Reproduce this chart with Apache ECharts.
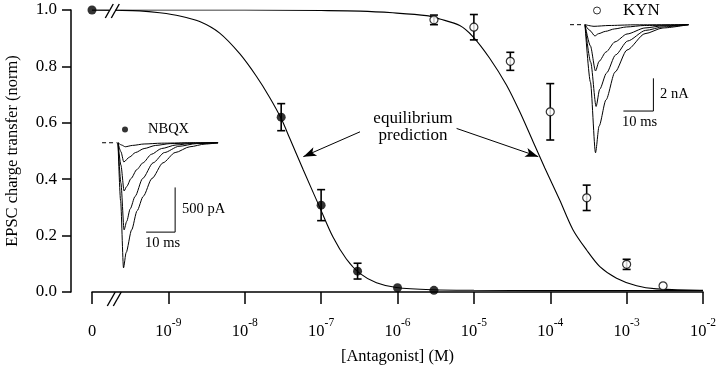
<!DOCTYPE html>
<html><head><meta charset="utf-8">
<script src="https://cdn.jsdelivr.net/npm/echarts@6/dist/echarts.min.js"></script>
<style>html,body{margin:0;padding:0;background:#fff}#c{width:720px;height:365px}</style>
</head><body><div id="c"></div>
<script>
// ---------------- data ----------------
const xTickExps = [-10, -9, -8, -7, -6, -5, -4, -3, -2];
const zeroLabel = '0';
const yTickLabels = ['0.0', '0.2', '0.4', '0.6', '0.8', '1.0'];
const zeroPlotConc = 1e-10;   // where "0" sits on the log axis
const breakConc = 1.9e-10;    // axis break position

const nbqxConc = [0, 3e-8, 1e-7, 3e-7, 1e-6, 3e-6];
const nbqxMean = [1.0, 0.62, 0.308, 0.074, 0.015, 0.006];
const nbqxErr  = [0, 0.048, 0.055, 0.028, 0, 0];

const kynConc = [3e-6, 1e-5, 3e-5, 1e-4, 3e-4, 1e-3, 3e-3];
const kynMean = [0.965, 0.939, 0.818, 0.639, 0.334, 0.098, 0.022];
const kynErr  = [0.017, 0.045, 0.032, 0.100, 0.045, 0.018, 0];

const nbqxFitConc = [0, 2.17e-10, 4.21e-10, 7.69e-10, 1.41e-9, 2.57e-9, 4.70e-9, 8.59e-9, 1.42e-8, 2.12e-8, 3.0e-8, 3.88e-8, 5.79e-8, 9.6e-8, 1.43e-7, 2.14e-7, 3.21e-7, 5.3e-7, 9.68e-7, 2.92e-6, 1e-5, 1e-4, 1e-3, 1e-2];
const nbqxFitVal  = [1.0, 0.999, 0.997, 0.99, 0.979, 0.959, 0.918, 0.845, 0.765, 0.69, 0.615, 0.545, 0.435, 0.30, 0.195, 0.117, 0.066, 0.033, 0.016, 0.008, 0.006, 0.005, 0.005, 0.005];

const kynFitConc = [0, 2.17e-10, 1e-8, 1e-7, 3.25e-7, 8.67e-7, 2.39e-6, 3.58e-6, 6.53e-6, 9.77e-6, 1.61e-5, 2.67e-5, 3.99e-5, 5.96e-5, 8.49e-5, 1.33e-4, 1.99e-4, 2.99e-4, 4.46e-4, 7.38e-4, 1.35e-3, 2.47e-3, 9.1e-3, 1e-2];
const kynFitVal  = [1.0, 1.0, 1.0, 0.998, 0.996, 0.99, 0.98, 0.968, 0.945, 0.905, 0.829, 0.734, 0.639, 0.533, 0.44, 0.326, 0.22, 0.149, 0.090, 0.049, 0.022, 0.011, 0.006, 0.006];

// arrows of the "equilibrium prediction" annotation (data coords)
const arrowFrom = [[3.23e-7, 0.568], [5.94e-6, 0.58]];
const arrowTo   = [[5.85e-8, 0.48], [6.97e-5, 0.48]];

// inset: NBQX EPSC traces (ms, pA)
const nbqxTraceT = [
  [0, 1.2, 2.5, 5, 9, 15, 24, 34.5],
  [0, 1, 2, 4, 6, 9, 13, 18, 25, 34.5],
  [0, 1, 2.1, 3, 4.5, 6.5, 8.6, 11.5, 15, 20, 26, 34.5],
  [0, 1, 2.1, 3, 4.2, 5.9, 8.5, 12.1, 16, 21, 27, 34.5],
  [0, 0.9, 1.9, 2.8, 4.7, 6.6, 8.7, 11.7, 15.5, 19.7, 24.8, 30, 34.5]
];
const nbqxTraceI = [
  [0, -25, -45, -30, -14, -5, -1, 0],
  [0, -100, -215, -160, -110, -65, -30, -10, -3, 0],
  [0, -250, -540, -490, -400, -300, -225, -130, -65, -25, -6, 0],
  [0, -450, -975, -880, -740, -600, -400, -225, -110, -40, -10, 0],
  [0, -650, -1400, -1230, -975, -760, -600, -400, -225, -110, -45, -15, 0]
];
const nbqxStub = [[-5.5, 0], [-0.5, 0]];
const nbqxScaleBar = [[9.7, -1000], [19.7, -1000], [19.7, -500]];

// inset: KYN EPSC traces (ms, nA)
const kynTraceT = [
  [0, 3, 8, 16, 34.5],
  [0, 1.6, 3.3, 4.5, 6.8, 9.8, 13.8, 19.8, 34.5],
  [0, 1.8, 3.5, 4.7, 7, 10, 14, 20, 26, 34.5],
  [0, 1.9, 3.7, 4.9, 7.2, 10.2, 14.2, 20.2, 26.2, 34.5],
  [0, 1.8, 3.5, 4.7, 7, 10, 14, 20, 26, 34.5]
];
const kynTraceI = [
  [0, -0.1, -0.05, -0.01, 0],
  [0, -0.35, -0.69, -0.55, -0.41, -0.26, -0.14, -0.05, 0],
  [0, -1.3, -2.83, -2.24, -1.67, -1.05, -0.57, -0.2, -0.07, 0],
  [0, -2.3, -5.0, -3.95, -2.95, -1.85, -1.0, -0.35, -0.13, 0],
  [0, -3.5, -7.83, -6.2, -4.6, -2.9, -1.55, -0.55, -0.2, 0]
];
const kynStub = [[-5, 0], [-1, 0]];
const kynScaleBar = [[12.8, -5.28], [22.8, -5.28], [22.8, -3.28]];

// ---------------- chart ----------------
const FF = '"Liberation Serif", "Times New Roman", serif';
const BLACK = '#000';
const toPlot = c => (c === 0 ? zeroPlotConc : c);
const zip = (xs, ys) => xs.map((x, i) => [toPlot(x), ys[i]]);

function errRender(params, api) {
  const x = api.value(0), lo = api.value(1), hi = api.value(2);
  const a = api.coord([x, lo]), b = api.coord([x, hi]);
  const w = 4, st = { stroke: BLACK, lineWidth: 1.6 };
  return { type: 'group', children: [
    { type: 'line', shape: { x1: a[0], y1: a[1], x2: b[0], y2: b[1] }, style: st },
    { type: 'line', shape: { x1: a[0] - w, y1: a[1], x2: a[0] + w, y2: a[1] }, style: st },
    { type: 'line', shape: { x1: b[0] - w, y1: b[1], x2: b[0] + w, y2: b[1] }, style: st }
  ]};
}
const errData = (cs, ms, es) => cs.map((c, i) => [toPlot(c), ms[i] - es[i], ms[i] + es[i]]).filter((d, i) => es[i] > 0);

const traceSeries = [];
nbqxTraceT.forEach((ts, k) => traceSeries.push({
  type: 'line', xAxisIndex: 1, yAxisIndex: 1, data: ts.map((t, i) => [t, nbqxTraceI[k][i]]),
  showSymbol: false, smooth: 0.25, smoothMonotone: 'x', lineStyle: { color: BLACK, width: 1 }, silent: true, z: 2
}));
kynTraceT.forEach((ts, k) => traceSeries.push({
  type: 'line', xAxisIndex: 2, yAxisIndex: 2, data: ts.map((t, i) => [t, kynTraceI[k][i]]),
  showSymbol: false, smooth: 0.25, smoothMonotone: 'x', lineStyle: { color: BLACK, width: 1 }, silent: true, z: 2
}));
traceSeries.push(
  { type: 'line', xAxisIndex: 1, yAxisIndex: 1, data: nbqxStub, showSymbol: false, lineStyle: { color: BLACK, width: 1, type: [4, 3] }, silent: true },
  { type: 'line', xAxisIndex: 1, yAxisIndex: 1, data: nbqxScaleBar, showSymbol: false, lineStyle: { color: BLACK, width: 1 }, silent: true },
  { type: 'line', xAxisIndex: 2, yAxisIndex: 2, data: kynStub, showSymbol: false, lineStyle: { color: BLACK, width: 1, type: [4, 3] }, silent: true },
  { type: 'line', xAxisIndex: 2, yAxisIndex: 2, data: kynScaleBar, showSymbol: false, lineStyle: { color: BLACK, width: 1 }, silent: true }
);

const chart = echarts.init(document.getElementById('c'), null, { renderer: 'canvas' });
const option = {
  animation: false,
  backgroundColor: '#fff',
  textStyle: { fontFamily: FF, color: BLACK },
  grid: [
    { left: 92, right: 17, top: 10, bottom: 73, outerBoundsMode: 'none', containLabel: false },
    { left: 100.6, top: 133.8, width: 127.6, height: 143, outerBoundsMode: 'none', containLabel: false },
    { left: 567, top: 16.5, width: 126, height: 147.2, outerBoundsMode: 'none', containLabel: false }
  ],
  xAxis: [
    {
      type: 'log', logBase: 10, min: 1e-10, max: 1e-2, splitNumber: 8, gridIndex: 0,
      position: 'bottom', offset: 7,
      axisLine: { show: true, lineStyle: { color: BLACK, width: 1.5 } },
      axisTick: { show: true, inside: false, length: 12, lineStyle: { color: BLACK, width: 1.5 } },
      minorTick: { show: false }, splitLine: { show: false }, minorSplitLine: { show: false },
      axisLabel: {
        show: true, margin: 18, color: BLACK,
        formatter: v => {
          const e = Math.round(Math.log10(v));
          if (xTickExps.indexOf(e) === 0) return '{b|' + zeroLabel + '}';
          return '{b|10}{s|' + e + '}';
        },
        rich: {
          b: { fontSize: 16.5, fontFamily: FF, color: BLACK, padding: [6, 0, 0, 0] },
          s: { fontSize: 11.5, fontFamily: FF, color: BLACK, verticalAlign: 'top' }
        }
      },
      name: '[Antagonist] (M)', nameLocation: 'middle', nameGap: 49,
      nameTextStyle: { fontSize: 16.5, fontFamily: FF, color: BLACK }
    },
    { type: 'value', gridIndex: 1, min: -6, max: 38, show: false },
    { type: 'value', gridIndex: 2, min: -6, max: 36, show: false }
  ],
  yAxis: [
    {
      type: 'value', min: 0, max: 1, interval: 0.2, gridIndex: 0, position: 'left', offset: 21,
      axisLine: { show: true, lineStyle: { color: BLACK, width: 1.5 } },
      axisTick: { show: true, inside: false, length: 9, lineStyle: { color: BLACK, width: 1.5 } },
      splitLine: { show: false },
      axisLabel: { show: true, margin: 14, fontSize: 17, fontFamily: FF, color: BLACK, formatter: (v, i) => yTickLabels[i] },
      name: 'EPSC charge transfer (norm)', nameLocation: 'middle', nameGap: 50, nameRotate: 90,
      nameTextStyle: { fontSize: 16.5, fontFamily: FF, color: BLACK }
    },
    { type: 'value', gridIndex: 1, min: -1500, max: 100, show: false },
    { type: 'value', gridIndex: 2, min: -8.5, max: 0.5, show: false }
  ],
  legend: [
    { data: [{ name: 'NBQX', icon: 'circle' }], left: 122, top: 122, padding: 0, itemWidth: 36, itemHeight: 6,
      selectedMode: false, textStyle: { fontSize: 14.5, fontFamily: FF, color: BLACK } },
    { data: [{ name: 'KYN', icon: 'circle' }], left: 593, top: 2, padding: 0, itemWidth: 42, itemHeight: 7,
      selectedMode: false, itemStyle: { borderWidth: 1 },
      textStyle: { fontSize: 17, fontFamily: FF, color: BLACK } }
  ],
  series: [
    { name: 'NBQX fit', type: 'line', data: zip(nbqxFitConc, nbqxFitVal), showSymbol: false, smooth: 0.3,
      lineStyle: { color: BLACK, width: 1.1 }, silent: true, z: 1,
      markLine: {
        silent: true, symbol: ['none', 'arrow'], symbolSize: [7, 13], animation: false,
        lineStyle: { color: BLACK, width: 1, type: 'solid' }, label: { show: false },
        itemStyle: { color: BLACK },
        data: arrowFrom.map((f, i) => [{ coord: f }, { coord: arrowTo[i] }])
      }
    },
    { name: 'KYN fit', type: 'line', data: zip(kynFitConc, kynFitVal), showSymbol: false, smooth: 0.3,
      lineStyle: { color: BLACK, width: 1.1 }, silent: true, z: 1 },
    { type: 'custom', renderItem: errRender, data: errData(nbqxConc, nbqxMean, nbqxErr), z: 2, silent: true },
    { type: 'custom', renderItem: errRender, data: errData(kynConc, kynMean, kynErr), z: 2, silent: true },
    { name: 'NBQX', type: 'scatter', data: zip(nbqxConc, nbqxMean), symbol: 'circle', symbolSize: 9,
      itemStyle: { color: BLACK }, z: 3, silent: true },
    { name: 'KYN', type: 'scatter', data: zip(kynConc, kynMean), symbol: 'circle', symbolSize: 8,
      itemStyle: { color: '#fff', borderColor: BLACK, borderWidth: 1.2 }, z: 3, silent: true }
  ].concat(traceSeries)
};
chart.setOption(option);

// axis breaks and text annotations
const bx = chart.convertToPixel({ xAxisIndex: 0 }, breakConc);
const yTop = chart.convertToPixel({ yAxisIndex: 0 }, 1.0);
const yAx = chart.convertToPixel({ yAxisIndex: 0 }, 0) + 7;
function breakMark(cx, cy) {
  const st = { stroke: BLACK, lineWidth: 1.4 };
  return [
    { type: 'rect', shape: { x: cx - 3, y: cy - 3, width: 6, height: 6 }, style: { fill: '#fff' }, z: 100 },
    { type: 'line', shape: { x1: cx - 7, y1: cy + 7, x2: cx + 1, y2: cy - 7 }, style: st, z: 101 },
    { type: 'line', shape: { x1: cx - 1, y1: cy + 7, x2: cx + 7, y2: cy - 7 }, style: st, z: 101 }
  ];
}
const txt = (text, x, y, size, align) => ({ type: 'text', z: 100, style: {
  text, x, y, fontSize: size, fontFamily: FF, fill: BLACK, align: align || 'left', verticalAlign: 'middle' } });
chart.setOption({ graphic: [].concat(
  breakMark(bx - 1, yTop + 1),
  breakMark(bx + 1, yAx),
  [
    txt('equilibrium', 413, 118.5, 17, 'center'),
    txt('prediction', 413, 135.5, 17, 'center'),
    txt('500 pA', 182, 209, 14.5),
    txt('10 ms', 145, 243, 14.5),
    txt('2 nA', 660, 94.5, 14.5),
    txt('10 ms', 622, 122, 14.5)
  ]
)});
</script></body></html>
